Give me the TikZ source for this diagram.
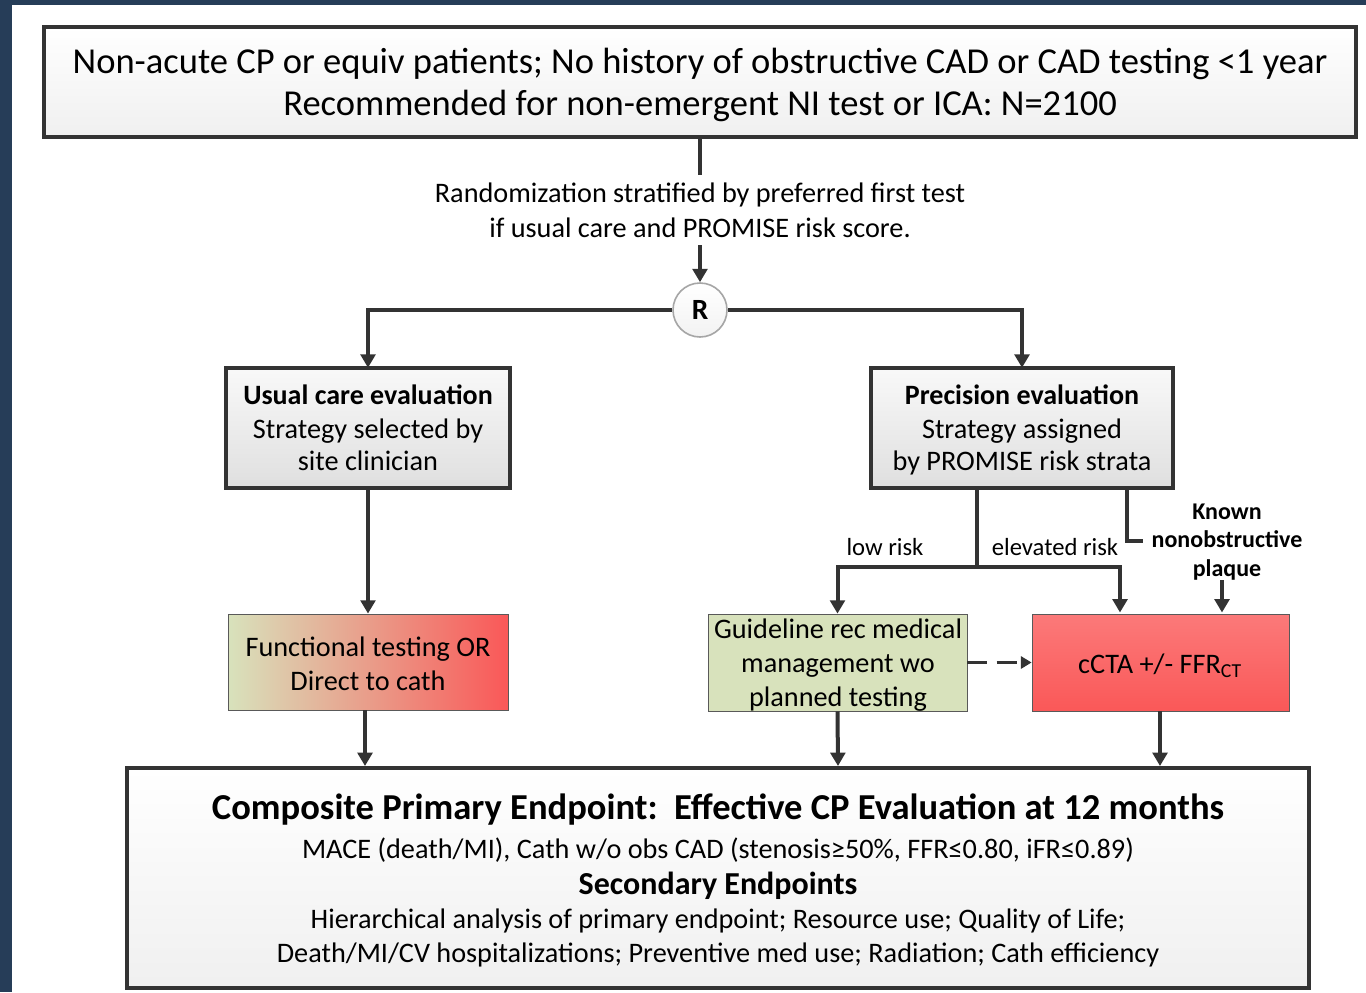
\documentclass[tikz,border=0pt]{standalone}
\usepackage{fontspec}
\setmainfont{Carlito}
\usetikzlibrary{arrows.meta,shadows}
\definecolor{navy}{HTML}{263D58}
\definecolor{edge}{HTML}{333333}
\definecolor{lgreen}{HTML}{D8E2BC}
\definecolor{lred}{HTML}{FA5858}
\tikzset{
  bigbox/.style={draw=edge,line width=3pt,top color=white,bottom color=gray!12,inner sep=0pt},
  midbox/.style={draw=edge,line width=3pt,top color=gray!5,bottom color=gray!25,inner sep=0pt},
  thinbox/.style={draw=gray!70!black,line width=0.6pt,inner sep=0pt},
  conn/.style={draw=edge,line width=3pt},
  arr/.style={conn,-{Triangle[length=10pt,width=11pt]}},
  tbase/.style={align=center,inner sep=0pt,anchor=mid},
  txt/.style={tbase,font=\fontsize{21.2}{24}\selectfont,yshift=-4.5pt},
  bigtxt/.style={tbase,font=\fontsize{27.4}{30}\selectfont,yshift=-6.5pt},
  bigbold/.style={tbase,font=\fontsize{27.4}{30}\selectfont\bfseries,yshift=-6pt},
  headtxt/.style={tbase,font=\fontsize{21}{24}\selectfont\bfseries,yshift=-4.5pt},
  sectxt/.style={tbase,font=\fontsize{24}{26}\selectfont\bfseries,yshift=-5.25pt},
  kntxt/.style={tbase,font=\fontsize{18}{20}\selectfont\bfseries,yshift=-3.75pt},
  lbltxt/.style={tbase,font=\fontsize{18.5}{20}\selectfont,yshift=-3.75pt},
}
\begin{document}
\begin{tikzpicture}[x=0.75pt,y=-0.75pt]
\fill[navy] (0,0) rectangle (1366,992);
\fill[white] (12,5) rectangle (1366,992);
\useasboundingbox (0,0) rectangle (1366,992);

% top box
\path[bigbox] (44,27) rectangle (1356,137);
\node (top) at (700,82) [minimum width=0.75*1312pt,minimum height=0.75*110pt] {};
\node[bigtxt] (t1) at (700,62) {Non-acute CP or equiv patients; No history of obstructive CAD or CAD testing <1 year};
\node[bigtxt] (t2) at (700,104) {Recommended for non-emergent NI test or ICA: N=2100};

\coordinate (rtop) at (700,175);
\draw[conn] (700,137) -- (rtop);
\node[txt] (r1) at (700,193) {Randomization stratified by preferred first test};
\node[txt] (r2) at (700,228) {if usual care and PROMISE risk score.};
\coordinate (rabove) at (700,245);

% R
\node[circle,draw=gray!70,line width=1.2pt,top color=white,bottom color=gray!10,minimum size=0.75*54pt,inner sep=0pt,font=\fontsize{22}{24}\selectfont\bfseries] (R) at (700,310) {R};
\draw[arr] (rabove) -- (R.north);

% usual care
\path[midbox] (226,368) rectangle (510,488);
\node (usual) at (368,428) [minimum width=0.75*284pt,minimum height=0.75*120pt,inner sep=0pt] {};
\node[headtxt] at (368,395) {Usual care evaluation};
\node[txt] at (368,429) {Strategy selected by};
\node[txt] at (368,461) {site clinician};

% precision
\path[midbox] (871,368) rectangle (1173,488);
\node (prec) at (1022,428) [minimum width=0.75*302pt,minimum height=0.75*120pt,inner sep=0pt] {};
\node[headtxt] at (1022,395) {Precision evaluation};
\node[txt] at (1022,429) {Strategy assigned};
\node[txt] at (1022,461) {by PROMISE risk strata};

\draw[arr] (R.west) -| (usual.north);
\draw[arr] (R.east) -| (prec.north);

% functional
\node[thinbox,left color=lgreen,right color=lred,minimum width=0.75*280pt,minimum height=0.75*96pt] (func) at (368,662) {};
\node[txt] at (368,647) {Functional testing OR};
\node[txt] at (368,681) {Direct to cath};
\draw[arr] (usual.south) -- (func.north);

% guideline
\node[thinbox,fill=lgreen,minimum width=0.75*259pt,minimum height=0.75*97pt] (guide) at (837.5,662.5) {};
\node[txt] at (838,629) {Guideline rec medical};
\node[txt] at (838,663) {management wo};
\node[txt] at (838,697) {planned testing};

% ccta
\node[thinbox,top color=lred!80,bottom color=lred,minimum width=0.75*257pt,minimum height=0.75*97pt] (ccta) at (1160.5,662.5) {};
\node[txt] at (1160,664) {cCTA +/- FFR\textsubscript{CT}};

% precision branches
\coordinate (br) at (977,567);
\draw[conn] (977,488) -- (br);
\draw[arr] (br) -| (guide.north);
\draw[arr] (br) -| (1120,612.5);
\node[lbltxt] at (885,547) {low risk};
\node[lbltxt] at (1055,547) {elevated risk};

\coordinate (kn) at (1143,541);
\draw[conn] (1127,488) |- (kn);
\node[kntxt] at (1227,511) {Known};
\node[kntxt] at (1227,539) {nonobstructive};
\node[kntxt] at (1227,568) {plaque};
\coordinate (pl) at (1222,580);
\draw[arr] (pl) -- (1222,612.5);

\draw[draw=edge,line width=2pt,dash pattern=on 15pt off 7pt,-{Triangle[length=8pt,width=9pt]}] (guide.east) -- (ccta.west);

% bottom
\path[bigbox] (127,768) rectangle (1309,988);
\node (bot) at (718,878) [minimum width=0.75*1182pt,minimum height=0.75*220pt,inner sep=0pt] {};
\draw[arr] (func.south -| 365,0) -- (365,766);
\draw[arr] (guide.south) -- (838,766);
\draw[arr] (ccta.south -| 1160,0) -- (1160,766);

\node[bigbold] at (718,808) {Composite Primary Endpoint:\ \ Effective CP Evaluation at 12 months};
\node[txt] at (718,849) {MACE (death/MI), Cath w/o obs CAD (stenosis≥50\%, FFR≤0.80, iFR≤0.89)};
\node[sectxt] at (718,884) {Secondary Endpoints};
\node[txt] at (718,919) {Hierarchical analysis of primary endpoint; Resource use; Quality of Life;};
\node[txt] at (718,953) {Death/MI/CV hospitalizations; Preventive med use; Radiation; Cath efficiency};
\end{tikzpicture}
\end{document}
